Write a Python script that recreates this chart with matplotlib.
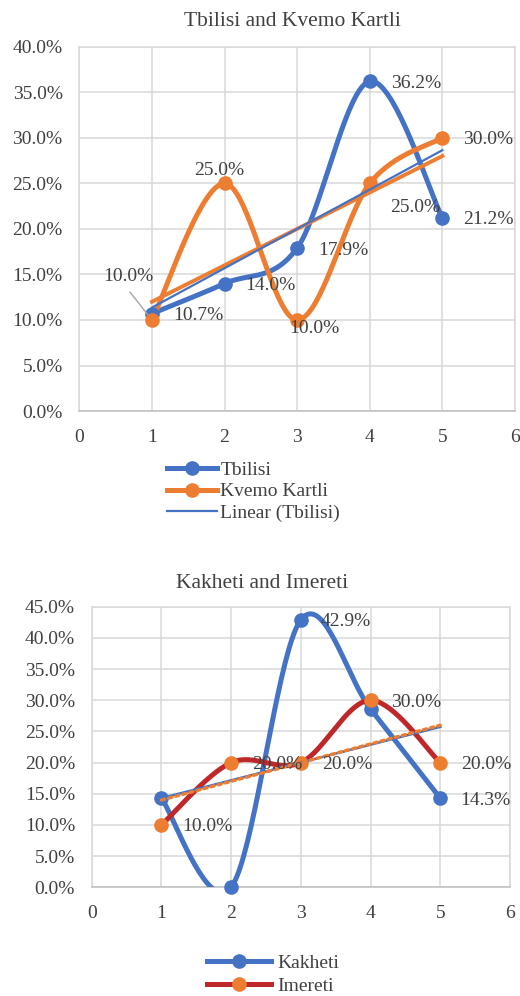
import numpy as np
import matplotlib
matplotlib.use("Agg")
import matplotlib.pyplot as plt
from matplotlib.lines import Line2D
from matplotlib.ticker import PercentFormatter, MultipleLocator

plt.rcParams['font.family'] = ['Liberation Serif', 'DejaVu Serif']

# data (shares, as fractions)
x = [1, 2, 3, 4, 5]
tbilisi = [0.107, 0.140, 0.179, 0.362, 0.212]
kvemo_kartli = [0.10, 0.25, 0.10, 0.25, 0.30]
kakheti = [0.143, 0.0, 0.429, 0.286, 0.143]
imereti = [0.10, 0.20, 0.20, 0.30, 0.20]

BLUE = '#4472C4'
ORANGE = '#ED7D31'
RED = '#C0272B'
GRID = '#D9D9D9'
TXT = '#404040'
FS = 14


def smooth(xs, ys, n=40):
    # excel-style smoothed line: bezier through the points (catmull-rom tangents)
    pts = np.column_stack([xs, ys]).astype(float)
    P = np.vstack([pts[0], pts, pts[-1]])
    out = []
    t = np.linspace(0, 1, n)[:, None]
    for i in range(1, len(P) - 2):
        p0, p1, p2, p3 = P[i - 1], P[i], P[i + 1], P[i + 2]
        c1 = p1 + (p2 - p0) / 6
        c2 = p2 - (p3 - p1) / 6
        seg = (1 - t)**3 * p1 + 3 * (1 - t)**2 * t * c1 + 3 * (1 - t) * t**2 * c2 + t**3 * p2
        out.append(seg if i == 1 else seg[1:])
    s = np.vstack(out)
    return s[:, 0], s[:, 1]


def trend(xs, ys):
    k, b = np.polyfit(xs, ys, 1)
    xx = np.array([xs[0], xs[-1]], dtype=float)
    return xx, k * xx + b


def series(ax, ys, line_col, mark_col):
    sx, sy = smooth(x, ys)
    ax.plot(sx, sy, color=line_col, lw=3.6, solid_capstyle='round', zorder=3)
    ax.plot(x, ys, 'o', color=mark_col, ms=9.5, zorder=4, clip_on=False)


def style(ax, ymax):
    ax.set_xlim(0, 6)
    ax.set_ylim(0, ymax)
    ax.xaxis.set_major_locator(MultipleLocator(1))
    ax.yaxis.set_major_locator(MultipleLocator(0.05))
    ax.yaxis.set_major_formatter(PercentFormatter(1.0, decimals=1))
    ax.grid(True, color=GRID, lw=1.1, zorder=0)
    ax.set_axisbelow(True)
    for s in ax.spines.values():
        s.set_color(GRID)
        s.set_linewidth(1.1)
    ax.spines['bottom'].set_color('#BFBFBF')
    ax.tick_params(length=0, labelsize=FS, colors=TXT)
    ax.tick_params(axis='y', pad=12)
    ax.tick_params(axis='x', pad=13)


def label(ax, xv, yv, dx, dy, ha='left'):
    # dx, dy in pixels (dpi 100 -> 0.72 pt per px), dy positive = down
    ax.annotate(f"{yv * 100:.1f}%", (xv, yv), xytext=(dx * 0.72, -dy * 0.72),
                textcoords='offset points', ha=ha, va='center',
                fontsize=FS, color=TXT, zorder=6, annotation_clip=False)


fig = plt.figure(figsize=(5.2, 9.96), dpi=100)

# ---- Tbilisi and Kvemo Kartli
ax1 = fig.add_axes([0.1525, 0.5873, 0.8379, 0.3658])
style(ax1, 0.40)
series(ax1, tbilisi, BLUE, BLUE)
series(ax1, kvemo_kartli, ORANGE, ORANGE)
tx, ty = trend(x, kvemo_kartli)
ax1.plot(tx, ty, color=ORANGE, lw=2.8, zorder=5)
tx, ty = trend(x, tbilisi)
ax1.plot(tx, ty, color=BLUE, lw=1.6, zorder=5)

for xv, yv in zip(x, tbilisi):
    label(ax1, xv, yv, 21, 2)
kk_off = [(-23.5, -43, 'center'), (-5.5, -13, 'center'), (17, 9, 'center'),
          (20, 24, 'left'), (21, 2, 'left')]
for (xv, yv), (dx, dy, ha) in zip(zip(x, kvemo_kartli), kk_off):
    label(ax1, xv, yv, dx, dy, ha)
# leader line for the first Kvemo Kartli label
ax1.annotate('', xy=(x[0], kvemo_kartli[0]), xytext=(-22 * 0.72, 28 * 0.72),
             textcoords='offset points', xycoords='data',
             arrowprops=dict(arrowstyle='-', color='#A6A6A6', lw=1,
                             shrinkA=0, shrinkB=5), zorder=5)

fig.text(292 / 520, 1 - 22 / 996, 'Tbilisi and Kvemo Kartli', ha='center',
         va='center', fontsize=15.5, color=TXT)

h1 = [Line2D([], [], color=BLUE, lw=3.6, marker='o', ms=9.5),
      Line2D([], [], color=ORANGE, lw=3.6, marker='o', ms=9.5),
      Line2D([], [], color=BLUE, lw=1.6)]
fig.legend(h1, ['Tbilisi', 'Kvemo Kartli', 'Linear (Tbilisi)'], loc='upper left',
           bbox_to_anchor=(0.321, 0.537), frameon=False, fontsize=FS,
           borderpad=0, borderaxespad=0, handlelength=2.6, handletextpad=0.15,
           labelspacing=0.21, labelcolor=TXT)

# ---- Kakheti and Imereti
ax2 = fig.add_axes([0.1763, 0.1091, 0.8044, 0.2817])
style(ax2, 0.45)
series(ax2, kakheti, BLUE, BLUE)
series(ax2, imereti, RED, ORANGE)
tx, ty = trend(x, kakheti)
ax2.plot(tx, ty, color=BLUE, lw=1.8, zorder=5)
tx, ty = trend(x, imereti)
ax2.plot(tx, ty, color=ORANGE, lw=2.4, ls=(0, (1, 1.2)), dash_capstyle='round', zorder=5)

for i in [2, 4]:
    label(ax2, x[i], kakheti[i], 20, 2)
for xv, yv in zip(x, imereti):
    label(ax2, xv, yv, 21, 2)

fig.text(262 / 520, 1 - 584 / 996, 'Kakheti and Imereti', ha='center',
         va='center', fontsize=15.5, color=TXT)

h2 = [Line2D([], [], color=BLUE, lw=3.6, marker='o', ms=9.5),
      Line2D([], [], color=RED, lw=3.6, marker='o', ms=9.5, mfc=ORANGE, mec=ORANGE)]
fig.legend(h2, ['Kakheti', 'Imereti'], loc='upper left',
           bbox_to_anchor=(0.398, 0.042), frameon=False, fontsize=FS,
           borderpad=0, borderaxespad=0, handlelength=3.3, handletextpad=0.3,
           labelspacing=0.28, labelcolor=TXT)

fig.savefig('out.png', dpi=100)
